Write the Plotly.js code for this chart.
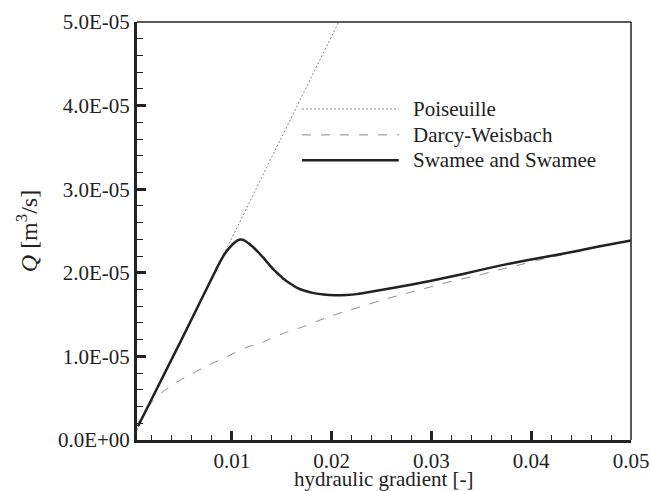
<!DOCTYPE html>
<html>
<head>
<meta charset="utf-8">
<script src="https://cdn.plot.ly/plotly-3.0.1.min.js"></script>
<style>html,body{margin:0;padding:0;background:#fff;}#chart{width:650px;height:491px;}</style>
</head>
<body>
<div id="chart"></div>
<script>
// Data
var poiseuilleX = [0.0005, 0.0207];
var poiseuilleY = [1.2e-6, 5.0e-5];

var darcyX = [0.0006, 0.001, 0.0014, 0.002, 0.003, 0.004, 0.005, 0.006, 0.0073, 0.0093, 0.0113, 0.01329, 0.01516, 0.01716, 0.01928, 0.02128, 0.02327, 0.02527, 0.02727, 0.02926, 0.03109, 0.03269, 0.03468, 0.03652, 0.03851, 0.04051, 0.045, 0.05];
var darcyY = [0.20e-5, 0.28e-5, 0.36e-5, 0.45e-5, 0.57e-5, 0.655e-5, 0.73e-5, 0.79e-5, 0.875e-5, 0.985e-5, 1.10e-5, 1.18e-5, 1.276e-5, 1.356e-5, 1.455e-5, 1.535e-5, 1.607e-5, 1.682e-5, 1.747e-5, 1.81e-5, 1.87e-5, 1.918e-5, 1.969e-5, 2.029e-5, 2.085e-5, 2.145e-5, 2.265e-5, 2.385e-5];

var swameeX = [0.0006, 0.005, 0.0086, 0.0090, 0.0094, 0.0098, 0.01023, 0.01057, 0.0109, 0.0113, 0.0117, 0.0122, 0.0127, 0.0132, 0.0137, 0.0142, 0.0147, 0.0152, 0.0158, 0.0165, 0.0173, 0.0182, 0.0192, 0.0203, 0.0215, 0.0225, 0.02654, 0.02986, 0.03318, 0.03652, 0.03984, 0.04316, 0.0465, 0.05];
var swameeY = [0.165e-5, 1.21e-5, 2.08e-5, 2.17e-5, 2.245e-5, 2.305e-5, 2.356e-5, 2.387e-5, 2.397e-5, 2.385e-5, 2.35e-5, 2.30e-5, 2.24e-5, 2.175e-5, 2.105e-5, 2.037e-5, 1.98e-5, 1.925e-5, 1.875e-5, 1.823e-5, 1.785e-5, 1.757e-5, 1.740e-5, 1.732e-5, 1.735e-5, 1.745e-5, 1.826e-5, 1.902e-5, 1.986e-5, 2.077e-5, 2.157e-5, 2.228e-5, 2.308e-5, 2.387e-5];

var xTickVals = [0.01, 0.02, 0.03, 0.04, 0.05];
var xTickText = ["0.01", "0.02", "0.03", "0.04", "0.05"];
var yTickVals = [0, 1e-5, 2e-5, 3e-5, 4e-5, 5e-5];
var yTickText = ["0.0E+00", "1.0E-05", "2.0E-05", "3.0E-05", "4.0E-05", "5.0E-05"];

var seriesNames = ["Poiseuille", "Darcy-Weisbach", "Swamee and Swamee"];
var xTitle = "hydraulic gradient [-]";
var yTitle = "<i>Q</i> [m<sup>3</sup>/s]";

var FONT = "Liberation Serif";
var INK = "#222";

var traces = [
  {x: poiseuilleX, y: poiseuilleY, mode: "lines", name: seriesNames[0],
   line: {color: "#888", width: 1, dash: "2px,2px"}},
  {x: darcyX, y: darcyY, mode: "lines", name: seriesNames[1],
   line: {color: "#888", width: 1, dash: "9px,10px", shape: "spline", smoothing: 0.5}},
  {x: swameeX, y: swameeY, mode: "lines", name: seriesNames[2],
   line: {color: INK, width: 2.5, shape: "spline", smoothing: 0.5}}
];

// custom legend (long line samples as in the reference)
var legendRows = [0.792, 0.730, 0.669];
var legendStyles = [
  {color: "#888", width: 1, dash: "2px,2px"},
  {color: "#888", width: 1, dash: "9px,10px"},
  {color: INK, width: 2.5}
];
var shapes = [
  {type: "line", xref: "paper", yref: "paper", x0: 0, x1: 1, y0: 1, y1: 1, line: {color: INK, width: 1.5}},
  {type: "line", xref: "paper", yref: "paper", x0: 1, x1: 1, y0: 0, y1: 1, line: {color: INK, width: 1.5}}
];
var annotations = [];
for (var i = 0; i < seriesNames.length; i++) {
  shapes.push({type: "line", xref: "paper", yref: "paper", x0: 0.334, x1: 0.530,
    y0: legendRows[i], y1: legendRows[i], line: legendStyles[i]});
  annotations.push({xref: "paper", yref: "paper", x: 0.555, y: legendRows[i],
    xanchor: "left", yanchor: "middle", showarrow: false, text: seriesNames[i],
    font: {family: FONT, size: 21, color: INK}});
}
// x-axis title, placed just below the tick labels
annotations.push({xref: "paper", yref: "paper", x: 0.5, y: 0, xanchor: "center", yanchor: "top",
  yshift: -25, showarrow: false, text: xTitle, font: {family: FONT, size: 21, color: INK}});

var layout = {
  width: 650, height: 491,
  margin: {l: 137, r: 19, t: 22, b: 51},
  paper_bgcolor: "#fff", plot_bgcolor: "#fff",
  showlegend: false,
  font: {family: FONT, color: INK},
  xaxis: {
    range: [0.0005, 0.05], tickmode: "array", tickvals: xTickVals, ticktext: xTickText,
    ticks: "inside", ticklen: 9, tickwidth: 3, tickcolor: INK,
    showline: true, linewidth: 3, linecolor: INK, showgrid: false, zeroline: false,
    tickfont: {family: FONT, size: 21, color: INK},
    minor: {tickmode: "linear", tick0: 0, dtick: 0.002, ticks: "inside", ticklen: 5, tickwidth: 1, tickcolor: INK, showgrid: false}
  },
  yaxis: {
    range: [0, 5e-5], tickmode: "array", tickvals: yTickVals, ticktext: yTickText,
    ticks: "inside", ticklen: 9, tickwidth: 3, tickcolor: INK,
    showline: true, linewidth: 3, linecolor: INK, showgrid: false, zeroline: false,
    tickfont: {family: FONT, size: 21, color: INK},
    minor: {tickmode: "linear", tick0: 0, dtick: 2e-6, ticks: "inside", ticklen: 6, tickwidth: 1, tickcolor: INK, showgrid: false},
    title: {text: yTitle, font: {family: FONT, size: 24, color: INK}, standoff: 14}
  },
  shapes: shapes,
  annotations: annotations
};

Plotly.newPlot("chart", traces, layout, {displayModeBar: false, staticPlot: true});
</script>
</body>
</html>
